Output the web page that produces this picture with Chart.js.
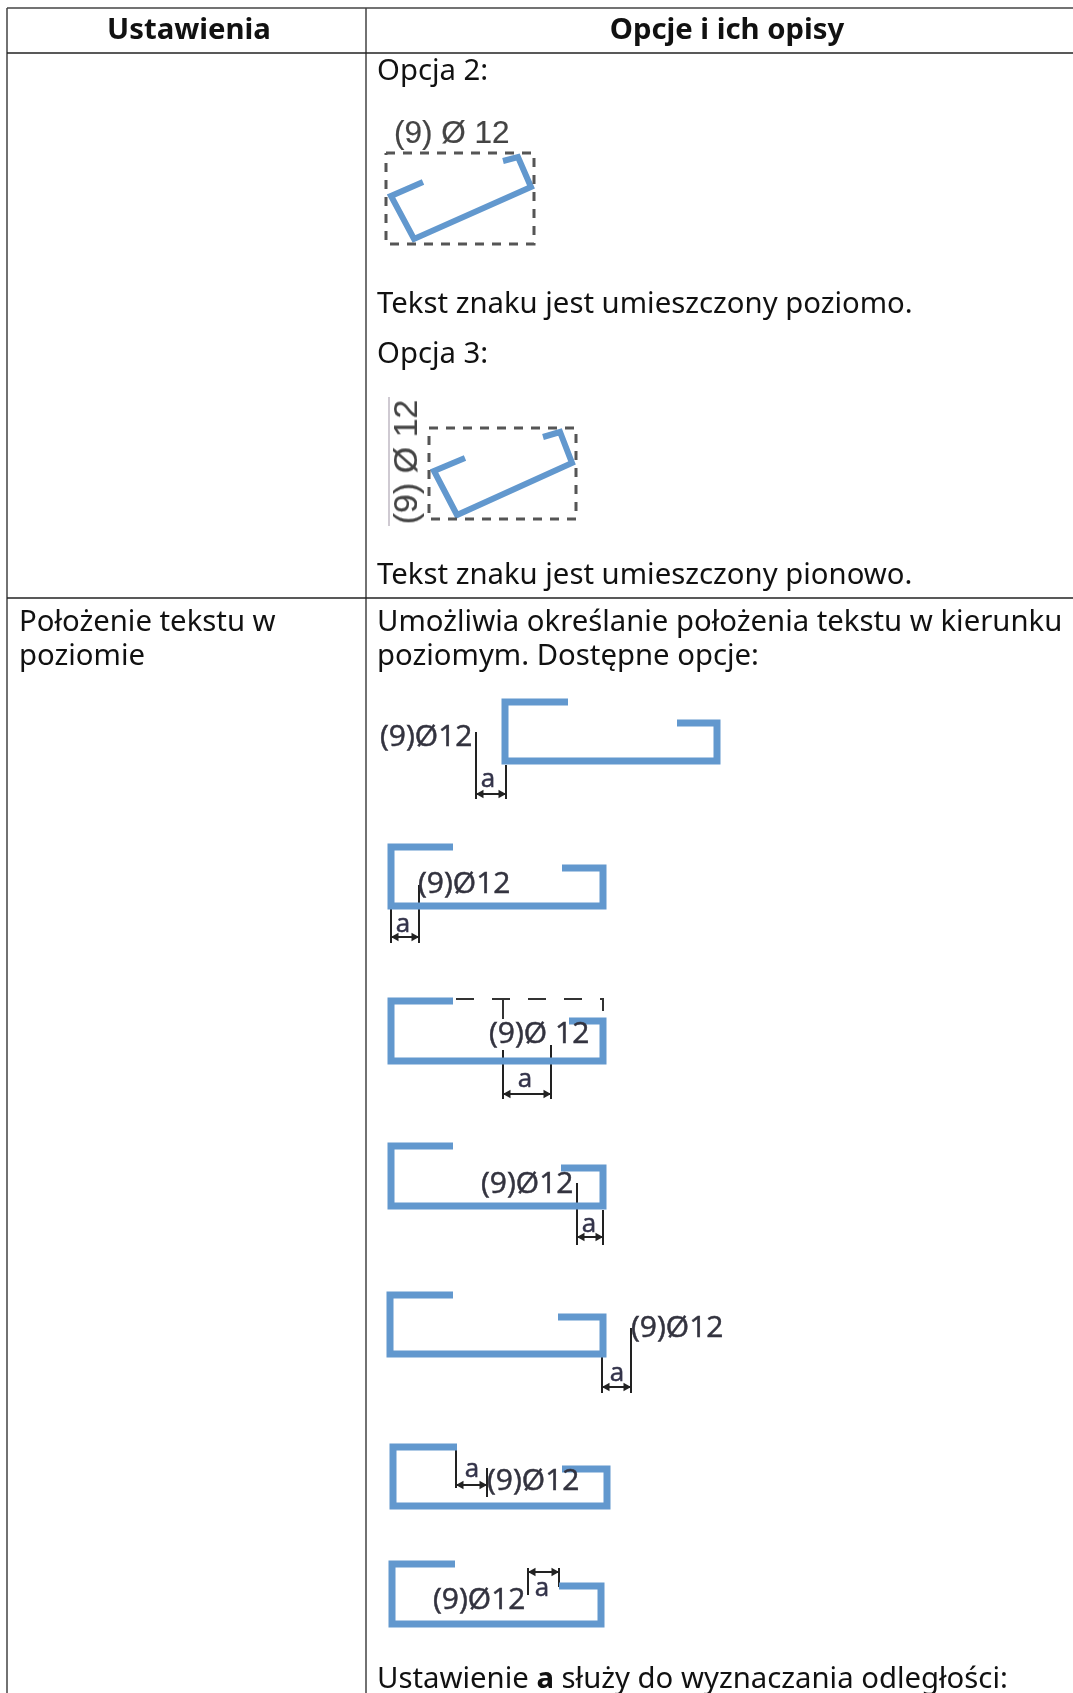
<!DOCTYPE html>
<html lang="pl"><head><meta charset="utf-8">
<script src="https://cdn.jsdelivr.net/npm/chart.js@4"></script>
<style>
html,body{margin:0;padding:0;background:#fff;overflow:hidden}
#wrap{position:relative;width:1073px;height:1693px;overflow:hidden}
canvas{position:absolute;left:0;top:0}
.t,.d,.l,.a{position:absolute;white-space:pre;line-height:36px;color:#111}
.t{font:29.3px/36px "Noto Sans",sans-serif;transform:translateY(-50%)}
.h{font-weight:700;transform:translate(-50%,-50%)}
.d{font:30px/30px "Open Sans",sans-serif;color:#33333f;-webkit-text-stroke:.5px #33333f;filter:blur(.5px);transform:translateY(-50%);}
.a{font:26px/26px "Open Sans",sans-serif;color:#33334a;-webkit-text-stroke:.5px #33334a;filter:blur(.5px);transform:translate(-50%,-50%)}
.l{font:31.5px/32px "Liberation Sans",sans-serif;color:#444;-webkit-text-stroke:.2px #444;filter:blur(.5px);transform:translateY(-50%)}
</style></head><body>
<div id="wrap"><canvas id="c" width="1073" height="1693"></canvas>
<div class="t h" style="left:189px;top:28px">Ustawienia</div>
<div class="t h" style="left:727px;top:28px">Opcje i ich opisy</div>
<div class="t" style="left:377px;top:69px">Opcja 2:</div>
<div class="l" style="left:394px;top:132px">(9) Ø 12</div>
<div class="t" style="left:377px;top:302px">Tekst znaku jest umieszczony poziomo.</div>
<div class="t" style="left:377px;top:352px">Opcja 3:</div>
<div class="l" style="left:405px;top:462px;font-size:34px;transform:translate(-50%,-50%) rotate(-90deg)">(9) Ø 12</div>
<div class="t" style="left:377px;top:573px">Tekst znaku jest umieszczony pionowo.</div>
<div class="t" style="left:19px;top:620px">Położenie tekstu w</div>
<div class="t" style="left:19px;top:654px">poziomie</div>
<div class="t" style="left:377px;top:620px">Umożliwia określanie położenia tekstu w kierunku</div>
<div class="t" style="left:377px;top:654px">poziomym. Dostępne opcje:</div>
<div class="d" style="left:380px;top:735px">(9)Ø12</div><div class="a" style="left:488px;top:777px">a</div>
<div class="d" style="left:418px;top:882px">(9)Ø12</div><div class="a" style="left:403px;top:922px">a</div>
<div class="d" style="left:489px;top:1032px">(9)Ø 12</div><div class="a" style="left:525px;top:1077px">a</div>
<div class="d" style="left:481px;top:1182px">(9)Ø12</div><div class="a" style="left:589px;top:1222px">a</div>
<div class="d" style="left:631px;top:1326px">(9)Ø12</div><div class="a" style="left:617px;top:1371px">a</div>
<div class="d" style="left:487px;top:1479px">(9)Ø12</div><div class="a" style="left:472px;top:1467px">a</div>
<div class="d" style="left:433px;top:1598px">(9)Ø12</div><div class="a" style="left:542px;top:1586px">a</div>
<div class="t" style="left:377px;top:1677px">Ustawienie <b>a</b> służy do wyznaczania odległości:</div>
</div>
<script>
// table rules
const tableTop=[[7,8],[1073,8]];
const headerRule=[[7,53],[1073,53]];
const rowRule=[[7,598],[1073,598]];
const leftRule=[[7,8],[7,1693]];
const columnRule=[[366,8],[366,1693]];
// tilted bars with their dashed boxes
const boxOpt2=[[386,153],[534,153],[534,244],[386,244],[386,153]];
const barOpt2=[[423,182],[391,196],[414,239],[531,187],[518,157],[503,161]];
const boxOpt3=[[429,428],[576,428],[576,519],[429,519],[429,428]];
const barOpt3=[[465,458],[434,471],[457,515],[572,463],[560,432],[543,437]];
const rotatedRule=[[389,397],[389,526]];
// horizontal-position bars
const barA=[[568,702],[505,702],[505,761],[717,761],[717,723],[677,723]];
const barB=[[453,847],[391,847],[391,906],[603,906],[603,868],[562,868]];
const barC=[[453,1001],[391,1001],[391,1061],[603,1061],[603,1021],[569,1021]];
const barD=[[453,1146],[391,1146],[391,1206],[603,1206],[603,1168],[561,1168]];
const barE=[[453,1295],[390,1295],[390,1354],[603,1354],[603,1317],[558,1317]];
const barF=[[457,1447],[393,1447],[393,1506],[607,1506],[607,1469],[562,1469]];
const barG=[[455,1564],[392,1564],[392,1624],[601,1624],[601,1586],[559,1586]];
// dimension lines: left witness, right witness, arrow line
const dimA=[[476,732],[476,799],null,[506,765],[506,799],null,[476,794],[506,794]];
const dimB=[[391,908],[391,943],null,[419,885],[419,943],null,[391,937],[419,937]];
const dimC=[[503,1050],[503,1099],null,[551,1045],[551,1099],null,[503,1094],[551,1094]];
const dimD=[[577,1183],[577,1245],null,[603,1210],[603,1245],null,[577,1237],[603,1237]];
const dimE=[[602,1357],[602,1393],null,[631,1328],[631,1393],null,[602,1387],[631,1387]];
const dimF=[[456,1450],[456,1488],null,[487,1468],[487,1497],null,[456,1485],[487,1485]];
const dimG=[[528,1568],[528,1595],null,[559,1568],[559,1587],null,[528,1572],[559,1572]];
const dashC=[[456,999],[603,999],[603,1011]];
const tickC=[[503,999],[503,1019]];

const pts=a=>a.map(p=>p?{x:p[0],y:p[1]}:{x:NaN,y:NaN});
const line=(a,color,w,dash)=>({data:pts(a),showLine:true,borderColor:color,borderWidth:w,borderDash:dash||[],
  pointRadius:0,tension:0,spanGaps:false,borderJoinStyle:'miter',borderCapStyle:'butt',fill:false});
const RULE='#444', BLUE='#6298CE', INK='#222', DASH='#555';
const dims=[dimA,dimB,dimC,dimD,dimE,dimF,dimG];
const arrows=(sign,rot)=>({data:dims.map(d=>{const p=d[sign<0?6:7];return {x:p[0]-sign*5,y:p[1]};}),
  showLine:false,pointStyle:'triangle',pointRotation:rot,pointRadius:5,
  pointBackgroundColor:INK,pointBorderColor:INK,pointBorderWidth:0});
new Chart(document.getElementById('c'),{
 type:'scatter',
 data:{datasets:[
  line(tableTop,RULE,1.5),line(headerRule,'#222',1.5),line(rowRule,'#222',1.5),line(leftRule,RULE,1.5),line(columnRule,RULE,1.5),
  line(rotatedRule,'#cfcad2',2),
  line(boxOpt2,DASH,3,[9,8]),line(boxOpt3,DASH,3,[9,8]),
  line(barOpt2,BLUE,6),line(barOpt3,BLUE,6),
  ...[barA,barB,barC,barD,barE,barF,barG].map(b=>line(b,BLUE,7)),
  line(dashC,'#333',2,[18,18]),line(tickC,'#333',2),
  ...dims.map(d=>line(d,INK,2)),
  arrows(-1,-90),arrows(1,90)
 ]},
 options:{responsive:false,animation:false,events:[],
  layout:{padding:0,autoPadding:false},
  plugins:{legend:{display:false},tooltip:{enabled:false}},
  scales:{x:{type:'linear',min:0,max:1073,display:false},y:{type:'linear',min:0,max:1693,reverse:true,display:false}}}
});
</script></body></html>
